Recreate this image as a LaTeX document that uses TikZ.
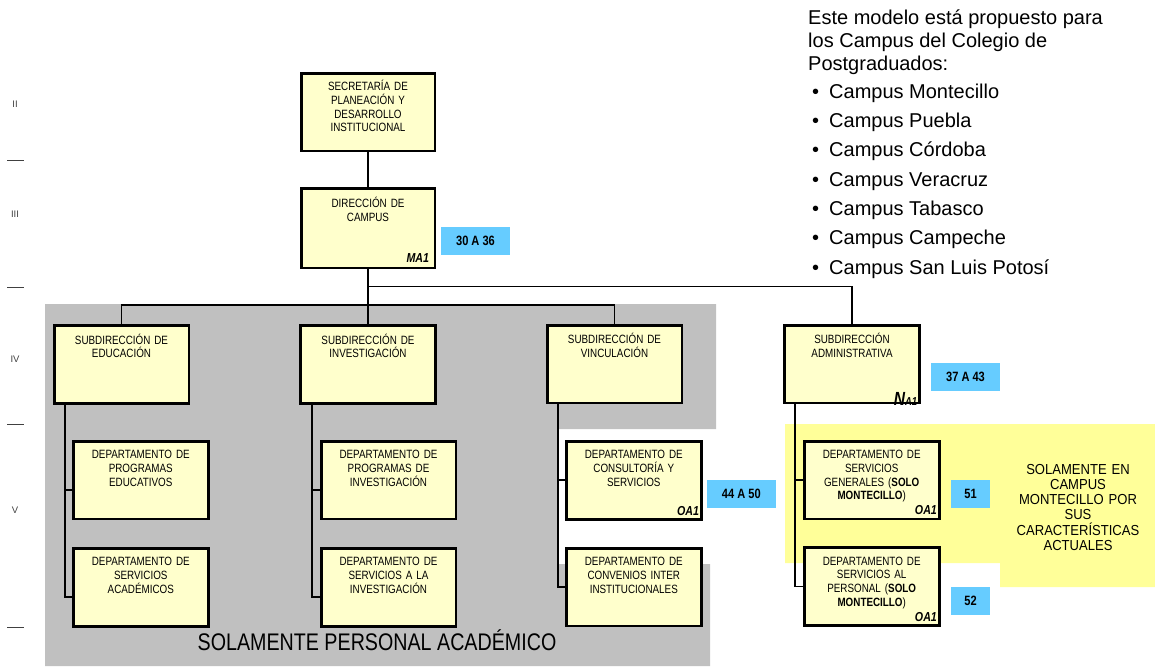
\documentclass[tikz,border=0pt]{standalone}
\usepackage{fontspec}
\setmainfont{Liberation Sans}
\newfontfamily\narfont[FakeStretch=0.82]{Liberation Sans}
\newfontfamily\semifont[FakeStretch=0.9]{Liberation Sans}
\usetikzlibrary{calc}
\definecolor{boxfill}{HTML}{FFFFCC}
\definecolor{numblue}{HTML}{66CCFF}
\definecolor{grayzone}{HTML}{C0C0C0}
\definecolor{yellowzone}{HTML}{FFFF99}
\definecolor{romangray}{HTML}{404040}
\begin{document}
\begin{tikzpicture}[x=1pt,y=-1pt,
  unit/.style={draw=black, line width=2.8pt, fill=boxfill, inner sep=0pt, minimum width=132, minimum height=75},
  btext/.style={font=\narfont\fontsize{12}{13.7}\selectfont, text width=130pt, align=center, inner sep=0pt, anchor=base},
  tag/.style={font=\narfont\bfseries\itshape\fontsize{13}{13}\selectfont, inner sep=0pt, anchor=base east},
  num/.style={fill=numblue, inner sep=0pt, font=\narfont\bfseries\fontsize{13.5}{13.5}\selectfont},
  conn/.style={line width=1.8pt, draw=black},
  roman/.style={font=\fontsize{9.5}{9.5}\selectfont, text=romangray, inner sep=0pt},
  tick/.style={draw=romangray, line width=0.8pt},
  note/.style={font=\fontsize{20}{23}\selectfont, inner sep=0pt, anchor=base west},
  bul/.style={font=\fontsize{20}{23}\selectfont, inner sep=0pt, anchor=base}
]
\useasboundingbox (0,0) rectangle (1155,667);

% background zones
\fill[grayzone] (45,304) -- (716,304) -- (716,429) -- (558,429) -- (558,564) -- (710,564) -- (710,666) -- (45,666) -- cycle;
\fill[yellowzone] (785,424) -- (1155,424) -- (1155,587) -- (1000,587) -- (1000,563) -- (785,563) -- cycle;

% level markers
\node[roman] (r2) at (15,104) {II};
\node[roman] (r3) at (15,214) {III};
\node[roman] (r4) at (15,359) {IV};
\node[roman] (r5) at (15,510) {V};
\draw[tick] (7,160) -- (24,160);
\draw[tick] (7,287) -- (24,287);
\draw[tick] (7,424) -- (24,424);
\draw[tick] (7,627) -- (24,627);

% boxes
\node[unit, minimum width=131] (sec) at (368,112) {};
\node[unit, minimum width=131, minimum height=77] (dir) at (368,228) {};
\node[unit] (sEdu) at (121.5,364.5) {};
\node[unit] (sInv) at (368,364.5) {};
\node[unit] (sVin) at (614.5,364) {};
\node[unit] (sAdm) at (852,364) {};
\node[unit] (dPE) at (140.8,480) {};
\node[unit] (dSA) at (140.8,587.2) {};
\node[unit] (dPI) at (388.5,480) {};
\node[unit] (dSI) at (388.5,587.2) {};
\node[unit] (dCS) at (633.8,480.3) {};
\node[unit] (dCI) at (633.8,587) {};
\node[unit] (dSG) at (871.7,480) {};
\node[unit] (dSP) at (871.7,586.5) {};

% connectors
\coordinate (j1) at (368,305);
\coordinate (j2) at (368,286.5);
\coordinate (c1) at (65,402);
\coordinate (c2) at (311.7,402);
\coordinate (c3) at (557.7,402);
\coordinate (c4) at (795,402);
\draw[conn] (sec.south) -- (dir.north);
\draw[conn] (dir.south) -- (sInv.north);
\draw[conn] (sEdu.north) |- (j1) -| (sVin.north);
\draw[conn] (j2) -| (sAdm.north);
\draw[conn] (c1) |- ($(dPE.west)+(0,10)$);
\draw[conn] (c1) |- ($(dSA.west)+(0,10)$);
\draw[conn] (c2) |- ($(dPI.west)+(0,10)$);
\draw[conn] (c2) |- ($(dSI.west)+(0,10)$);
\draw[conn] (c3) |- (dCS.west);
\draw[conn] (c3) |- (dCI.west);
\draw[conn] (c4) |- (dSG.west);
\draw[conn] (c4) |- (dSP.west);

% redraw boxes over connectors
\foreach \b in {sec,dir,sEdu,sInv,sVin,sAdm,dPE,dSA,dPI,dSI,dCS,dCI,dSG,dSP}{
  \draw[line width=2.8pt, fill=boxfill] (\b.north west) rectangle (\b.south east);
}

% box texts
\node[btext] (secT) at ($(sec.north)+(0,17.5)$) {SECRETARÍA DE\\PLANEACIÓN Y\\DESARROLLO\\INSTITUCIONAL};
\node[btext] (dirT) at ($(dir.north)+(0,19.5)$) {DIRECCIÓN DE\\CAMPUS};
\node[btext] (sEduT) at ($(sEdu.north)+(0,18.5)$) {SUBDIRECCIÓN DE\\EDUCACIÓN};
\node[btext] (sInvT) at ($(sInv.north)+(0,18.5)$) {SUBDIRECCIÓN DE\\INVESTIGACIÓN};
\node[btext] (sVinT) at ($(sVin.north)+(0,18.5)$) {SUBDIRECCIÓN DE\\VINCULACIÓN};
\node[btext] (sAdmT) at ($(sAdm.north)+(0,18.5)$) {SUBDIRECCIÓN\\ADMINISTRATIVA};
\node[btext] (dPET) at ($(dPE.north)+(0,17.5)$) {DEPARTAMENTO DE\\PROGRAMAS\\EDUCATIVOS};
\node[btext] (dSAT) at ($(dSA.north)+(0,17.5)$) {DEPARTAMENTO DE\\SERVICIOS\\ACADÉMICOS};
\node[btext] (dPIT) at ($(dPI.north)+(0,17.5)$) {DEPARTAMENTO DE\\PROGRAMAS DE\\INVESTIGACIÓN};
\node[btext] (dSIT) at ($(dSI.north)+(0,17.5)$) {DEPARTAMENTO DE\\SERVICIOS A LA\\INVESTIGACIÓN};
\node[btext] (dCST) at ($(dCS.north)+(0,17.5)$) {DEPARTAMENTO DE\\CONSULTORÍA Y\\SERVICIOS};
\node[btext] (dCIT) at ($(dCI.north)+(0,17.5)$) {DEPARTAMENTO DE\\CONVENIOS INTER\\INSTITUCIONALES};
\node[btext] (dSGT) at ($(dSG.north)+(0,17.5)$) {DEPARTAMENTO DE\\SERVICIOS\\GENERALES (\textbf{SOLO}\\\textbf{MONTECILLO})};
\node[btext] (dSPT) at ($(dSP.north)+(0,17.5)$) {DEPARTAMENTO DE\\SERVICIOS AL\\PERSONAL (\textbf{SOLO}\\\textbf{MONTECILLO})};

% tags
\node[tag] (dirTag) at ($(dir.south east)+(-5.7,-5.5)$) {MA1};
\node[tag] (dCSTag) at ($(dCS.south east)+(-2,-4.2)$) {OA1};
\node[tag] (dSGTag) at ($(dSG.south east)+(-2,-4.2)$) {OA1};
\node[tag] (dSPTag) at ($(dSP.south east)+(-2,-4.2)$) {OA1};
\node[inner sep=0pt, anchor=base east] (sAdmTag) at ($(sAdm.south east)+(-2,3)$)
  {\narfont\bfseries\itshape\fontsize{19}{19}\selectfont N\fontsize{11.5}{11.5}\selectfont A1};

% blue range labels
\node[num, minimum width=69, minimum height=28.3] (n1) at (475.5,240.8) {30 A 36};
\node[num, minimum width=69, minimum height=27.7] (n2) at (965.5,376.9) {37 A 43};
\node[num, minimum width=69.3, minimum height=27.7] (n3) at (741.3,493.9) {44 A 50};
\node[num, minimum width=39, minimum height=27.7] (n4) at (970.5,493.9) {51};
\node[num, minimum width=39, minimum height=27.7] (n5) at (970.5,600.9) {52};

% zone captions
\node[inner sep=0pt, anchor=base, font=\narfont\fontsize{24}{24}\selectfont] (acad) at (377,650) {SOLAMENTE PERSONAL ACADÉMICO};
\node[inner sep=0pt, anchor=base, text width=150pt, align=center,
  font=\semifont\fontsize{14.5}{15.3}\selectfont] (mont) at (1078,474)
  {\lineskiplimit=-20pt\relax SOLAMENTE EN\\CAMPUS\\MONTECILLO POR\\SUS\\CARACTERÍSTICAS\\ACTUALES};

% note at top right
\node[note] (h1) at (808,24.5) {Este modelo está propuesto para};
\node[note] (h2) at (808,47.5) {los Campus del Colegio de};
\node[note] (h3) at (808,70.5) {Postgraduados:};
\node[bul] (b1) at (815.5,98.5) {•};
\node[note] (t1) at (829,98.5) {Campus Montecillo};
\node[bul] (b2) at (815.5,127.5) {•};
\node[note] (t2) at (829,127.5) {Campus Puebla};
\node[bul] (b3) at (815.5,156.5) {•};
\node[note] (t3) at (829,156.5) {Campus Córdoba};
\node[bul] (b4) at (815.5,186) {•};
\node[note] (t4) at (829,186) {Campus Veracruz};
\node[bul] (b5) at (815.5,215) {•};
\node[note] (t5) at (829,215) {Campus Tabasco};
\node[bul] (b6) at (815.5,244.5) {•};
\node[note] (t6) at (829,244.5) {Campus Campeche};
\node[bul] (b7) at (815.5,274) {•};
\node[note] (t7) at (829,274) {Campus San Luis Potosí};
\end{tikzpicture}
\end{document}
